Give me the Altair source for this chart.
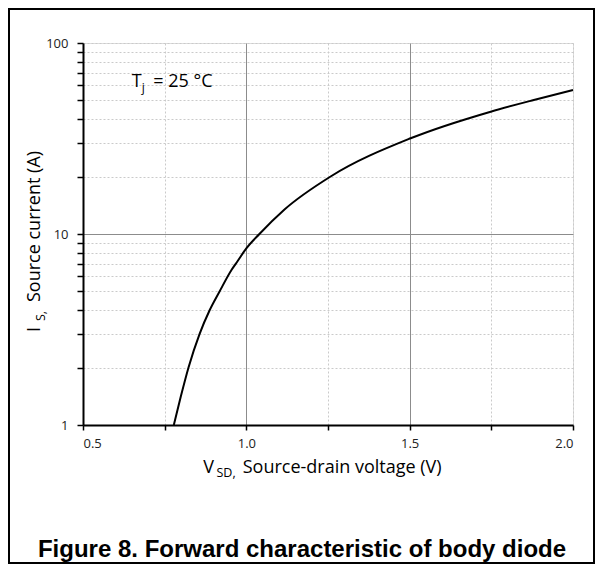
import altair as alt
import pandas as pd

# Forward characteristic of body diode (Tj = 25 °C)
v_sd = [0.778, 0.799, 0.823, 0.857, 0.888, 0.918, 0.955, 0.973, 1.0, 1.04, 1.116, 1.258, 1.503, 1.748, 1.88, 2.0]
i_s = [1.0, 1.4, 2.0, 3.0, 4.0, 5.0, 6.5, 7.2, 8.4, 10.0, 13.4, 20.0, 31.7, 43.7, 50.3, 56.7]

x_ticks = [0.5, 0.75, 1.0, 1.25, 1.5, 1.75, 2.0]
y_ticks = [1, 2, 3, 4, 5, 6, 7, 8, 9, 10, 20, 30, 40, 50, 60, 70, 80, 90, 100]

df = pd.DataFrame({"v": v_sd, "i": i_s})
one = pd.DataFrame({"k": [0]})

W, H = 490, 382
FONT = "Open Sans"

x_axis = alt.Axis(
    values=x_ticks,
    title=None,
    labelExpr="(datum.value == 0.5 || datum.value == 1 || datum.value == 1.5 || datum.value == 2) ? format(datum.value, '.1f') : ''",
    labelFont=FONT, labelFontSize=13, labelColor="#222", labelPadding=7,
    tickColor="black", tickSize=5, tickWidth=1.5,
    domainColor="black", domainWidth=2,
    gridColor={"condition": {"test": "datum.value == 1 || datum.value == 1.5", "value": "#8c8c8c"}, "value": "#cacaca"},
    gridDash={"condition": {"test": "datum.value == 1 || datum.value == 1.5", "value": []}, "value": [2, 2]},
    gridWidth=1,
)
y_axis = alt.Axis(
    values=y_ticks,
    title=None,
    labelExpr="(datum.value == 1 || datum.value == 10 || datum.value == 100) ? format(datum.value, 'd') : ''",
    labelFont=FONT, labelFontSize=13, labelColor="#222", labelPadding=9,
    tickColor="black", tickSize=6, tickWidth=1.5,
    domainColor="black", domainWidth=2,
    gridColor={"condition": {"test": "datum.value == 10", "value": "#8c8c8c"}, "value": "#cacaca"},
    gridDash={"condition": {"test": "datum.value == 10", "value": []}, "value": [2, 2]},
    gridWidth=1,
)

line = alt.Chart(df).mark_line(color="black", strokeWidth=2, interpolate="monotone").encode(
    x=alt.X("v:Q", scale=alt.Scale(domain=[0.5, 2.0], nice=False, zero=False), axis=x_axis),
    y=alt.Y("i:Q", scale=alt.Scale(type="log", domain=[1, 100], nice=False), axis=y_axis),
)


def label(txt, x, y, size=18, angle=0, align="left", weight="normal", font=FONT):
    return alt.Chart(one).mark_text(
        text=txt, fontSize=size, angle=angle, align=align, baseline="alphabetic",
        font=font, fontWeight=weight, color="black",
    ).encode(x=alt.value(x), y=alt.value(y))


texts = [
    # Tj annotation
    label("T", 48.7, 43.7),
    label("j", 58.7, 48.5, size=12),
    label("= 25 °C", 70.3, 43.7),
    # x title
    label("V", 120.3, 429.5),
    label("SD,", 133.5, 434.3, size=12.5),
    label("Source-drain voltage (V)", 159.7, 429.5),
    # y title
    label("I", -43, 289, angle=270),
    label("S,", -38, 278, size=12.5, angle=270),
    label("Source current (A)", -43, 259, angle=270),
    # figure caption
    label("Figure 8. Forward characteristic of body diode", 219, 514, size=24,
          align="center", weight="bold", font="Liberation Sans"),
]

frame = alt.Chart(one).mark_rect(fill=None, stroke="black", strokeWidth=2).encode(
    x=alt.value(-74), x2=alt.value(511), y=alt.value(-34), y2=alt.value(520)
)

chart = alt.layer(line, *texts, frame).properties(
    width=W, height=H,
    autosize=alt.AutoSizeParams(type="none"),
    padding={"left": 75, "top": 35, "right": 22, "bottom": 139},
).configure_view(stroke="black", strokeWidth=1.5).configure(background="white")

chart.save("out.html", embed_options={"renderer": "svg", "actions": False})
